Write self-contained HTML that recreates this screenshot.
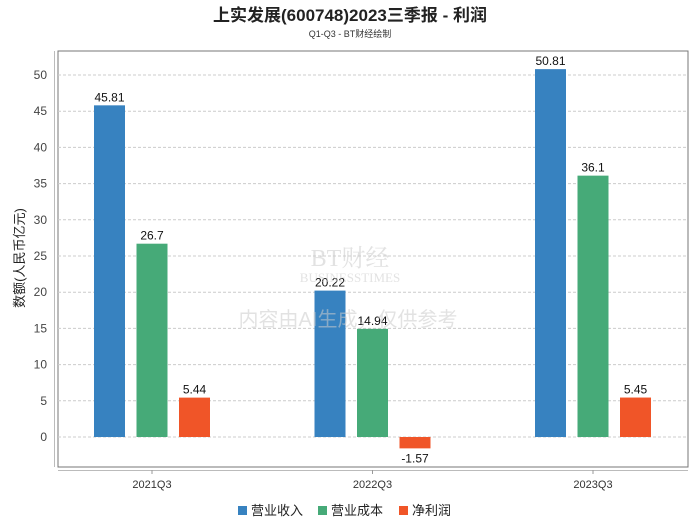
<!DOCTYPE html>
<html><head><meta charset="utf-8"><style>
body{margin:0;background:#fff;width:700px;height:524px;overflow:hidden;font-family:"Liberation Sans","Noto Sans CJK SC",sans-serif}
</style></head><body>
<svg width="700" height="524" style="font-family:'Liberation Sans','Noto Sans CJK SC',sans-serif">
<text x="350" y="21" text-anchor="middle" font-size="17" font-weight="bold" fill="#222">上实发展(600748)2023三季报 - 利润</text>
<text x="350" y="37" text-anchor="middle" font-size="9" fill="#333">Q1-Q3 - BT财经绘制</text>
<g id="plot"></g>
<g fill="#ccc" opacity="0.55">
<text x="350" y="266" text-anchor="middle" font-size="24" font-family="Liberation Serif,Noto Serif CJK SC,serif">BT财经</text>
<text x="350" y="282" text-anchor="middle" font-size="13" font-family="Liberation Serif,serif">BUSINESSTIMES</text>
<text x="348" y="326" text-anchor="middle" font-size="20">内容由AI生成，仅供参考</text>
</g>
<g font-size="13" fill="#222">
<rect x="238" y="506" width="9" height="9" fill="#3782c0"/><text x="251" y="515">营业收入</text>
<rect x="318" y="506" width="9" height="9" fill="#46aa78"/><text x="331" y="515">营业成本</text>
<rect x="399" y="506" width="9" height="9" fill="#f05528"/><text x="412" y="515">净利润</text>
</g>
</svg>
<script>
const categories=['2021Q3','2022Q3','2023Q3'];
const revenue=[45.81,20.22,50.81];
const cost=[26.7,14.94,36.1];
const profit=[5.44,-1.57,5.45];
const yTicks=[0,5,10,15,20,25,30,35,40,45,50];
const ns='http://www.w3.org/2000/svg';
const g=document.getElementById('plot');
const L=58,R=688,T=51,B=467;
const y=v=>437-v*7.24;
const xc=i=>152+220.5*i;
function mk(t,a,p){const e=document.createElementNS(ns,t);for(const k in a)e.setAttribute(k,a[k]);(p||g).appendChild(e);return e;}
let box=mk('rect',{x:L,y:T,width:R-L,height:B-T,fill:'none',stroke:'#777'});


let ya=mk('line',{x1:54.5,y1:T,x2:54.5,y2:B,stroke:'#bbb'});


let xa=mk('line',{x1:L,y1:470.5,x2:R,y2:470.5,stroke:'#bbb'});


yTicks.forEach(v=>{
 let l=mk('line',{x1:L,y1:y(v),x2:R,y2:y(v),stroke:'#ccc','stroke-dasharray':'3,2'});
 
 
 let t=mk('text',{x:47,y:y(v)+4,'text-anchor':'end','font-size':12,fill:'#444'});t.textContent=v;
 
 
});
let yt=mk('text',{transform:'translate(24,258) rotate(-90)','text-anchor':'middle','font-size':13,fill:'#222'});
yt.textContent='数额(人民币亿元)';


const series=[[revenue,'#3782c0','revenue'],[cost,'#46aa78','cost'],[profit,'#f05528','profit']];
categories.forEach((c,i)=>{
 let tk=mk('line',{x1:xc(i),y1:470,x2:xc(i),y2:474,stroke:'#999'});
 
 
 let t=mk('text',{x:xc(i),y:488,'text-anchor':'middle','font-size':11,fill:'#333'});t.textContent=c;
 
 
 series.forEach((s,j)=>{
  const v=s[0][i],cx=xc(i)+(j-1)*42.5;
  const y0=Math.min(y(0),y(v)),h=Math.abs(y(v)-y(0));
  let r=mk('rect',{x:cx-15.5,y:y0,width:31,height:h,fill:s[1]});
  
  
  let lt=mk('text',{x:cx,y:v>=0?y(v)-4:y(v)+14,'text-anchor':'middle','font-size':12,fill:'#111'});lt.textContent=v;
  
  
 });
});
</script>
</body></html>
